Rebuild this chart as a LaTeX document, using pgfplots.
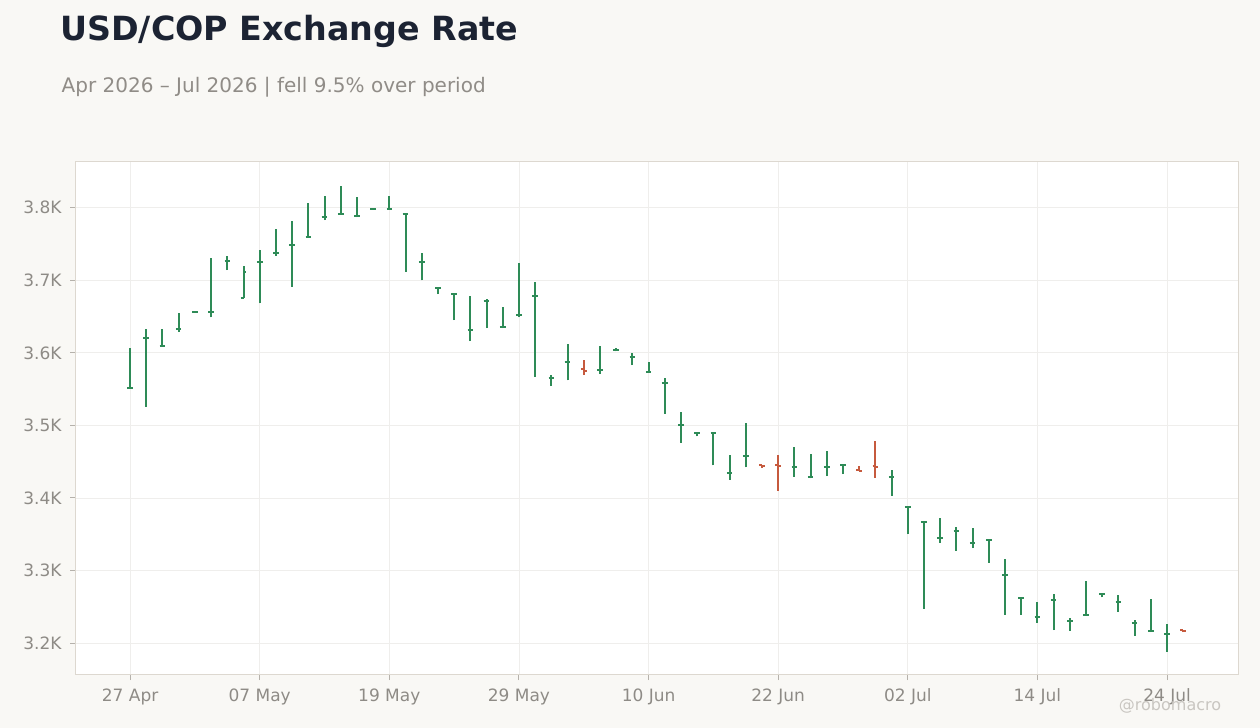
\documentclass[border=0pt]{standalone}
\usepackage{pgfplots}
\pgfplotsset{compat=1.18}
\usepackage{pgfplotstable}
\usepackage{fontspec}
\setmainfont{DejaVu Sans}

\definecolor{bg}{HTML}{F9F8F5}
\definecolor{ctitle}{HTML}{1C2333}
\definecolor{csub}{HTML}{908C87}
\definecolor{cticklbl}{HTML}{8E8B86}
\definecolor{ctick}{HTML}{B5B1AB}
\definecolor{cborder}{HTML}{DDD8D0}
\definecolor{cgrid}{HTML}{EFEEEC}
\definecolor{cup}{HTML}{2E8B57}
\definecolor{cdown}{HTML}{C65A3E}
\definecolor{cmark}{HTML}{C9C6C1}

\pgfdeclareplotmark{otick}{%
  \pgfpathmoveto{\pgfqpoint{-2.8bp}{0bp}}%
  \pgfpathlineto{\pgfqpoint{0bp}{0bp}}%
  \pgfusepathqstroke}
\pgfdeclareplotmark{ctick}{%
  \pgfpathmoveto{\pgfqpoint{0bp}{0bp}}%
  \pgfpathlineto{\pgfqpoint{2.8bp}{0bp}}%
  \pgfusepathqstroke}

% trading day index, open, high, low, close
\pgfplotstableread{
i o h l c
0 3552 3607 3551 3552
1 3621 3633 3526 3621
2 3610 3633 3609 3610
3 3633 3655 3629 3633
4 3656 3657 3655 3656
5 3656 3731 3649 3656
6 3727 3734 3714 3727
7 3676 3720 3675 3712
8 3725 3742 3668 3725
9 3738 3770 3734 3738
10 3748 3782 3691 3748
11 3760 3807 3760 3760
12 3787 3816 3783 3787
13 3792 3830 3791 3792
14 3788 3815 3787 3788
15 3798 3799 3797 3798
16 3798 3816 3797 3798
17 3792 3793 3712 3792
18 3725 3737 3700 3725
19 3690 3691 3681 3690
20 3681 3682 3645 3681
21 3632 3679 3616 3632
22 3672 3674 3634 3672
23 3635 3663 3634 3635
24 3652 3724 3649 3652
25 3679 3698 3567 3679
26 3566 3570 3554 3566
27 3587 3612 3562 3587
29 3577 3610 3571 3577
30 3604 3606 3602 3604
31 3594 3600 3583 3594
32 3574 3588 3573 3574
33 3559 3566 3516 3559
34 3500 3519 3476 3500
35 3490 3491 3485 3490
36 3490 3491 3445 3490
37 3434 3459 3425 3434
38 3458 3503 3442 3458
41 3443 3470 3429 3443
42 3429 3461 3427 3429
43 3443 3465 3430 3443
44 3446 3447 3433 3446
47 3429 3439 3403 3429
48 3387 3388 3350 3387
49 3367 3368 3247 3367
50 3345 3372 3338 3345
51 3354 3360 3327 3354
52 3338 3359 3331 3338
53 3342 3343 3311 3342
54 3294 3316 3239 3294
55 3262 3263 3239 3262
56 3236 3256 3228 3236
57 3260 3268 3218 3260
58 3231 3235 3217 3231
59 3239 3286 3239 3239
60 3268 3269 3263 3268
61 3256 3266 3243 3256
62 3228 3232 3210 3228
63 3216 3261 3215 3216
64 3212 3226 3188 3212
}\upbars

\pgfplotstableread{
i o h l c
28 3578 3590 3570 3575
39 3445 3446 3441 3444
40 3445 3459 3410 3444
45 3438 3444 3437 3437
46 3444 3479 3428 3443
65 3218 3218 3215 3216
}\downbars

\begin{document}
\begin{tikzpicture}
\fill[bg] (0,0) rectangle (1260bp,728bp);
\path[use as bounding box] (0,0) rectangle (1260bp,728bp);

\node[anchor=base west, inner sep=0, text=ctitle,
      font=\fontsize{33.3bp}{38bp}\selectfont\bfseries]
  at (60bp,687bp) {USD/COP Exchange Rate};
\node[anchor=base west, inner sep=0, text=csub,
      font=\fontsize{20bp}{24bp}\selectfont]
  at (61.5bp,635.5bp) {Apr 2026 – Jul 2026 | fell 9.5\% over period};

\begin{axis}[
  at={(75bp,53bp)}, anchor=south west,
  width=1164bp, height=513bp, scale only axis,
  xmin=-3.4, xmax=68.44,
  ymin=3156, ymax=3863,
  axis background/.style={fill=white},
  axis line style={draw=cborder, line width=1bp},
  xtick={0,8,...,64},
  xticklabels={27 Apr,07 May,19 May,29 May,10 Jun,22 Jun,02 Jul,14 Jul,24 Jul},
  ytick={3200,3300,3400,3500,3600,3700,3800},
  yticklabels={3.2K,3.3K,3.4K,3.5K,3.6K,3.7K,3.8K},
  tick align=outside,
  major tick length=5bp,
  tick style={draw=ctick, line width=1bp},
  xtick pos=bottom, ytick pos=left,
  grid=major,
  major grid style={draw=cgrid, line width=0.8bp},
  tick label style={font=\fontsize{17bp}{20bp}\selectfont, text=cticklbl},
  xticklabel style={yshift=-5bp},
  yticklabel style={xshift=-5bp},
  clip=false,
]
\addplot[draw=none, mark=none, forget plot,
  error bars/.cd, y dir=plus, y explicit,
  error mark=none,
  error bar style={draw=cup, line width=2bp, solid}]
  table[x=i, y=l, y error plus expr=\thisrow{h}-\thisrow{l}] {\upbars};
\addplot[only marks, mark=otick, cup, mark options={line width=2bp, solid}]
  table[x=i, y=o] {\upbars};
\addplot[only marks, mark=ctick, cup, mark options={line width=2bp, solid}]
  table[x=i, y=c] {\upbars};

\addplot[draw=none, mark=none, forget plot,
  error bars/.cd, y dir=plus, y explicit,
  error mark=none,
  error bar style={draw=cdown, line width=2bp, solid}]
  table[x=i, y=l, y error plus expr=\thisrow{h}-\thisrow{l}] {\downbars};
\addplot[only marks, mark=otick, cdown, mark options={line width=2bp, solid}]
  table[x=i, y=o] {\downbars};
\addplot[only marks, mark=ctick, cdown, mark options={line width=2bp, solid}]
  table[x=i, y=c] {\downbars};
\end{axis}

\node[anchor=base, inner sep=0, text=cmark,
      font=\fontsize{16bp}{19bp}\selectfont]
  at (1170bp,18bp) {@robomacro};
\end{tikzpicture}
\end{document}
